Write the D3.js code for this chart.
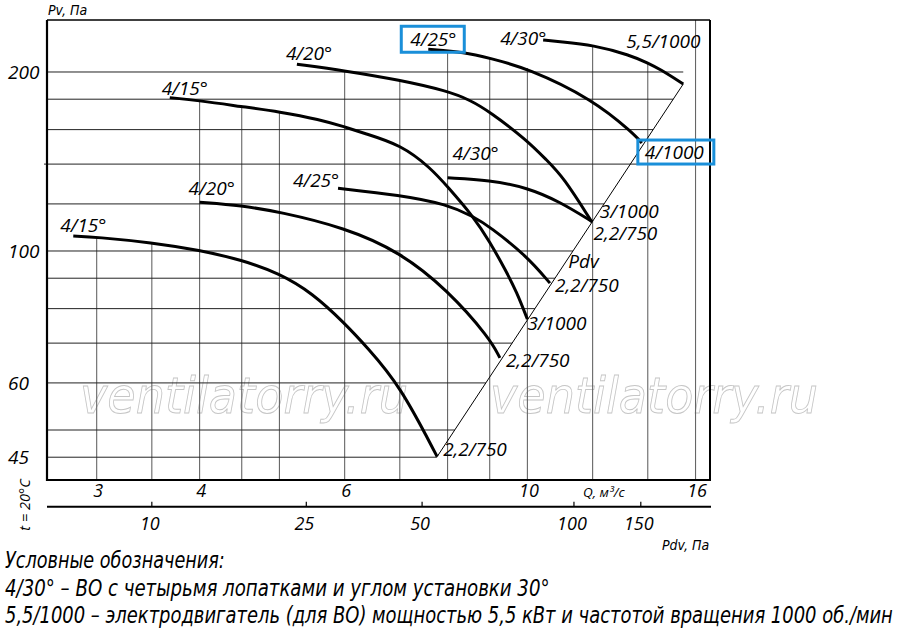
<!DOCTYPE html>
<html><head><meta charset="utf-8">
<script src="https://cdn.jsdelivr.net/npm/d3@7"></script>
<style>body{margin:0;background:#fff}svg{display:block}</style>
</head><body>
<svg id="c" width="900" height="637"></svg>
<script>
// ---------- data ----------
const qGrid = [3, 3.5, 4, 4.5, 5, 6, 7, 8, 9, 10, 12, 14, 16];
const pvGrid = [45, 50, 60, 70, 80, 90, 100, 120, 140, 160, 180, 200];
const pvFullLines = [140];
const qTickLabels = [3, 4, 6, 10, 16];
const pvTickLabels = [200, 100, 60, 45];
const pdvTicks = [10, 25, 50, 100, 150];
const pdvTickQ = [3.5, 5.39, 7.45, 11.39, 13.73];   // Q where dynamic pressure equals tick value

// curves: [Q m3/s, Pv Pa]
const curve415low = [[2.81,106],[3,105.5],[3.5,103.3],[4,100.3],[4.5,96.6],[5,91.7],[5.48,85],[6,75.6],[6.38,69],[7,59.5],[7.77,45.1]];
const curve420low = [[4,120.8],[4.5,119.2],[5,116.4],[6,109.5],[7,99.7],[8,86],[9,71.4],[9.26,66.1]];
const curve415up  = [[3.68,181.1],[4,179],[4.5,174.9],[5,171.5],[5.6,166.4],[6,161.7],[6.32,157.9],[7.03,150.8],[7.63,137.9],[8,128.3],[8.6,114.2],[9,103.7],[9.43,92.3],[9.7,85.4],[10,76.8]];
const curve425low = [[5.89,127.5],[7,124.2],[8,119.8],[8.6,114.2],[9,109.9],[9.98,98.1],[10.65,88.3]];
const curve420up  = [[5.25,206.1],[6,201],[7,193.9],[8,185.8],[8.52,179.4],[9,171.5],[9.98,153.7],[10.55,142.2],[11.05,133.3],[11.97,112]];
const curve430low = [[8,132.8],[9,131.6],[10,127.8],[10.95,121],[12,111.9]];
const curve425up  = [[7.58,218.4],[8.4,216],[9,210.9],[10,203.1],[12,180],[13.44,157.8],[13.77,151.9]];
const curve430up  = [[10.45,226.4],[10.95,224.9],[12.02,222],[13.32,213.6],[14.02,206.9],[14.48,202.3],[15.46,190.9]];
const pdvLine = [[7.77,45.1],[15.46,190.9]];
const pdvLabelPv = 95;

const curves = [curve415low, curve420low, curve415up, curve425low, curve420up, curve430low, curve425up, curve430up];
const bladeLabels = ["4/15°","4/20°","4/15°","4/25°","4/20°","4/30°","4/25°","4/30°"];
const motorLabels = ["2,2/750","2,2/750","3/1000","2,2/750","3/1000","2,2/750","4/1000","5,5/1000"];
const boxedBlade = [false,false,false,false,false,false,true,false];
const boxedMotor = [false,false,false,false,false,false,true,false];

const legendLines = [
  "Условные обозначения:",
  "4/30° – ВО с четырьмя лопатками и углом установки 30°",
  "5,5/1000 – электродвигатель (для ВО) мощностью 5,5 кВт и частотой вращения 1000 об./мин"
];

// ---------- layout ----------
const L = 47, R = 710, T = 20, B = 480;
const x = d3.scaleLog().domain([2.611, 16.66]).range([L, R]);
const y = d3.scaleLog().domain([41.2, 244.6]).range([B, T]);
const bladeOff = [[-13,-4],[-11,-7],[-8,-3],[-45,-1],[-11,-4],[5,-18],[-18,-3],[-43,5]];
const motorOff = [[6,-1],[6,9],[0,11],[5,9],[8,-4],[1,18],[3,16],[-57,-36]];
const lblFont = "'Open Sans', 'DejaVu Sans', sans-serif";
const narrow = "'Liberation Sans Narrow', 'DejaVu Sans Condensed', sans-serif";
const blue = "#1a8fd9";

const svg = d3.select("#c");
svg.append("rect").attr("width",900).attr("height",637).attr("fill","#fff");

function interp(c, q){
  if (q < c[0][0] || q > c[c.length-1][0]) return null;
  for (let i=0;i<c.length-1;i++){
    const a=c[i], b=c[i+1];
    if (q>=a[0] && q<=b[0]){
      const t=(Math.log(q)-Math.log(a[0]))/(Math.log(b[0])-Math.log(a[0]));
      return Math.exp(Math.log(a[1])+t*(Math.log(b[1])-Math.log(a[1])));
    }
  }
  return null;
}
function envelope(q){
  let m=null;
  curves.forEach(c=>{const v=interp(c,q); if(v!==null && (m===null||v>m)) m=v;});
  return m;
}
function diagQ(pv){
  const [a,b]=pdvLine;
  let t=(Math.log(pv)-Math.log(a[1]))/(Math.log(b[1])-Math.log(a[1]));
  t=Math.max(0,Math.min(1,t));
  return Math.exp(Math.log(a[0])+t*(Math.log(b[0])-Math.log(a[0])));
}

// watermark
const wm = svg.append("g");
[80, 490].forEach(wx=>{
  wm.append("text").attr("x",wx).attr("y",413)
    .attr("font-family","'DejaVu Sans', sans-serif").attr("font-weight",200)
    .attr("font-style","italic").attr("font-size",50)
    .attr("textLength",328).attr("lengthAdjust","spacingAndGlyphs")
    .attr("fill","none").attr("stroke","#c6c6c6").attr("stroke-width",0.9)
    .text("ventilatorry.ru");
});

// grid
const grid = svg.append("g");
qGrid.forEach(q=>{
  const e = envelope(q);
  grid.append("line").attr("x1",x(q)).attr("x2",x(q))
    .attr("y1",B).attr("y2", e===null ? T : y(e))
    .attr("stroke","#666").attr("stroke-width",1.1);
});
pvGrid.forEach(p=>{
  const full = pvFullLines.includes(p);
  grid.append("line").attr("x1", full ? L-3 : L).attr("x2", full ? R : x(diagQ(p)))
    .attr("y1",y(p)).attr("y2",y(p))
    .attr("stroke","#222").attr("stroke-width",1);
});

// diagonal Pdv line
svg.append("line").attr("x1",x(pdvLine[0][0])).attr("y1",y(pdvLine[0][1]))
  .attr("x2",x(pdvLine[1][0])).attr("y2",y(pdvLine[1][1]))
  .attr("stroke","#000").attr("stroke-width",1);

// frame
const fr = svg.append("g").attr("stroke","#000").attr("fill","none");
fr.append("line").attr("x1",L).attr("x2",R).attr("y1",T).attr("y2",T).attr("stroke-width",1.6);
fr.append("line").attr("x1",R).attr("x2",R).attr("y1",T).attr("y2",B).attr("stroke-width",2);
fr.append("line").attr("x1",L).attr("x2",L).attr("y1",T).attr("y2",B+1).attr("stroke-width",2.2);
fr.append("line").attr("x1",L-1).attr("x2",R+1).attr("y1",B).attr("y2",B).attr("stroke-width",2.2);
const pdvY = 506.7;
fr.append("line").attr("x1",L).attr("x2",R+1).attr("y1",pdvY).attr("y2",pdvY).attr("stroke-width",2);
pdvTickQ.forEach(q=>{
  fr.append("line").attr("x1",x(q)).attr("x2",x(q)).attr("y1",pdvY-5).attr("y2",pdvY).attr("stroke-width",1.2);
});

// curves
const line = d3.line().x(d=>x(d[0])).y(d=>y(d[1])).curve(d3.curveBasis);
svg.append("g").selectAll("path").data(curves).join("path")
  .attr("d",line).attr("fill","none").attr("stroke","#000").attr("stroke-width",3);

// curve labels
const lab = svg.append("g").attr("font-family",lblFont).attr("font-style","italic").attr("font-size",19).attr("fill","#000");
curves.forEach((c,i)=>{
  const s=c[0], e=c[c.length-1];
  const bx=x(s[0])+bladeOff[i][0], by=y(s[1])+bladeOff[i][1];
  lab.append("text").attr("x",bx).attr("y",by).text(bladeLabels[i]);
  if (boxedBlade[i]) svg.append("rect").attr("x",bx-9).attr("y",by-20).attr("width",63).attr("height",26)
      .attr("fill","none").attr("stroke",blue).attr("stroke-width",3);
  const mx=x(e[0])+motorOff[i][0], my=y(e[1])+motorOff[i][1];
  lab.append("text").attr("x",mx).attr("y",my).text(motorLabels[i]);
  if (boxedMotor[i]) svg.append("rect").attr("x",mx-7).attr("y",my-19).attr("width",76).attr("height",24)
      .attr("fill","none").attr("stroke",blue).attr("stroke-width",3);
});
lab.append("text").attr("x",x(diagQ(pdvLabelPv))+4).attr("y",y(pdvLabelPv)+4).text("Pdv");

// axis labels
const ax = svg.append("g").attr("font-family",lblFont).attr("font-style","italic").attr("fill","#000");
pvTickLabels.forEach(p=>{
  ax.append("text").attr("x",8).attr("y",y(p)).attr("dy","0.35em").attr("font-size",19).text(p);
});
qTickLabels.forEach(q=>{
  ax.append("text").attr("x",x(q)+1.5).attr("y",497).attr("text-anchor","middle").attr("font-size",18).text(q);
});
pdvTicks.forEach((p,i)=>{
  ax.append("text").attr("x",x(pdvTickQ[i])-2).attr("y",530).attr("text-anchor","middle").attr("font-size",18).text(p);
});
ax.append("text").attr("x",583).attr("y",497).attr("font-size",13.5).text("Q, м³/с");
ax.append("text").attr("transform","translate(30,505) rotate(-90)").attr("text-anchor","middle")
  .attr("font-size",14.5).text("t = 20°C");
const nl = svg.append("g").attr("font-family",narrow).attr("font-style","italic").attr("fill","#000");
nl.append("text").attr("x",48).attr("y",15).attr("font-size",14).text("Pv, Па");
nl.append("text").attr("x",662).attr("y",550).attr("font-size",14).text("Pdv, Па");

// legend (horizontally condensed to the reference widths)
const legW = [220, 545, 888];
const legY = [568, 596, 623];
legendLines.forEach((t,i)=>{
  const tx = nl.append("text").attr("x",0).attr("y",0).attr("font-size",23).text(t);
  const w = tx.node().getComputedTextLength();
  tx.attr("transform",`translate(5,${legY[i]}) scale(${legW[i]/w},1)`);
});
</script>
</body></html>
